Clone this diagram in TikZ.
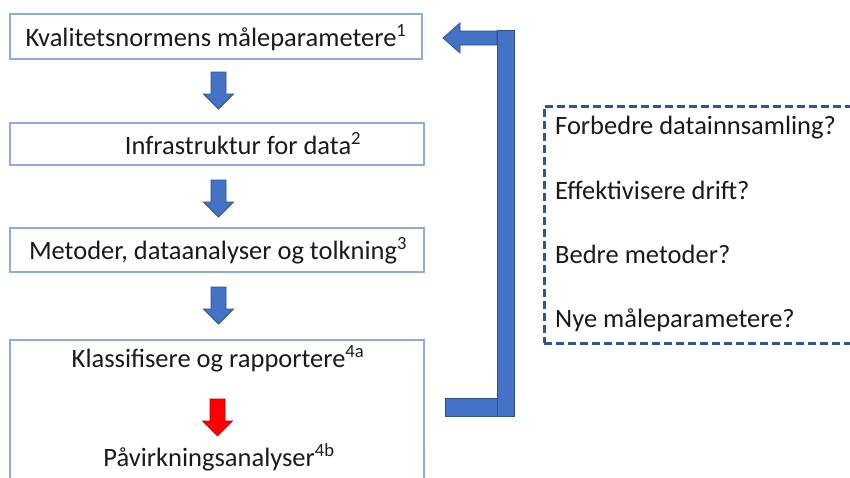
\documentclass[tikz,border=0pt]{standalone}
\usepackage{fontspec}
\setmainfont{Carlito}
\definecolor{boxblue}{HTML}{8FAADC}
\definecolor{arrblue}{HTML}{4472C4}
\definecolor{arrline}{HTML}{2F528F}
\definecolor{dashblue}{HTML}{2F5597}
\definecolor{txt}{HTML}{1A1A1A}
\tikzset{
  stagebox/.style={draw=boxblue, line width=2.5pt, fill=white, inner sep=0pt},
  lbl/.style={anchor=base, inner sep=0pt, text=txt, font=\fontsize{26.5}{30}\selectfont},
  qlbl/.style={anchor=base west, inner sep=0pt, text=txt, font=\fontsize{26.5}{30}\selectfont},
  blockfill/.style={fill=arrblue, draw=arrline, line width=0.8pt},
  pics/downarrow/.style={code={
    \path[pic actions] (-7.5,0) -- (7.5,0) -- (7.5,22) -- (15,22) -- (0,37) -- (-15,22) -- (-7.5,22) -- cycle;
  }}
}
\begin{document}
\begin{tikzpicture}[x=1pt,y=-1pt]
\clip (0,0) rectangle (850,477);
\fill[white] (0,0) rectangle (850,477);
% stage boxes
\node[stagebox, minimum width=412, minimum height=45] (b1) at (216,36.5) {};
\node[stagebox, minimum width=414, minimum height=42] (b2) at (217,144) {};
\node[stagebox, minimum width=414, minimum height=44] (b3) at (217,250) {};
\node[stagebox, minimum width=414, minimum height=160] (b4) at (217,420) {};
% texts
\node[lbl] (t1) at (216,46) {Kvalitetsnormens måleparametere\textsuperscript{1}};
\node[lbl] (t2) at (243,154) {Infrastruktur for data\textsuperscript{2}};
\node[lbl] (t3) at (218,259) {Metoder, dataanalyser og tolkning\textsuperscript{3}};
\node[lbl] (t4a) at (218,367) {Klassifisere og rapportere\textsuperscript{4a}};
\node[lbl] (t4b) at (219,466) {Påvirkningsanalyser\textsuperscript{4b}};
% down arrows
\pic[blockfill] at (218.5,72) {downarrow};
\pic[blockfill] at (218.5,180) {downarrow};
\pic[blockfill] at (218.5,287) {downarrow};
\pic[fill=red, draw=red!70!black, line width=0.6pt] at (217.5,399) {downarrow};
% feedback bracket
\path[blockfill] (443,38) -- (460,23) -- (460,31) -- (497,31) -- (497,45) -- (460,45) -- (460,53) -- cycle;
\path[blockfill] (445,398) rectangle (497,416);
\path[blockfill] (497,30) rectangle (514,416);
% dashed box
\node[draw=dashblue, line width=2.5pt, dash pattern=on 8pt off 4pt, minimum width=312, minimum height=237, anchor=north west, inner sep=0pt] (qbox) at (543,105) {};
\node[qlbl] (q1) at (555,134) {Forbedre datainnsamling?};
\node[qlbl] (q2) at (555,199) {Effektivisere drift?};
\node[qlbl] (q3) at (555,263) {Bedre metoder?};
\node[qlbl] (q4) at (555,327) {Nye måleparametere?};
\end{tikzpicture}
\end{document}
